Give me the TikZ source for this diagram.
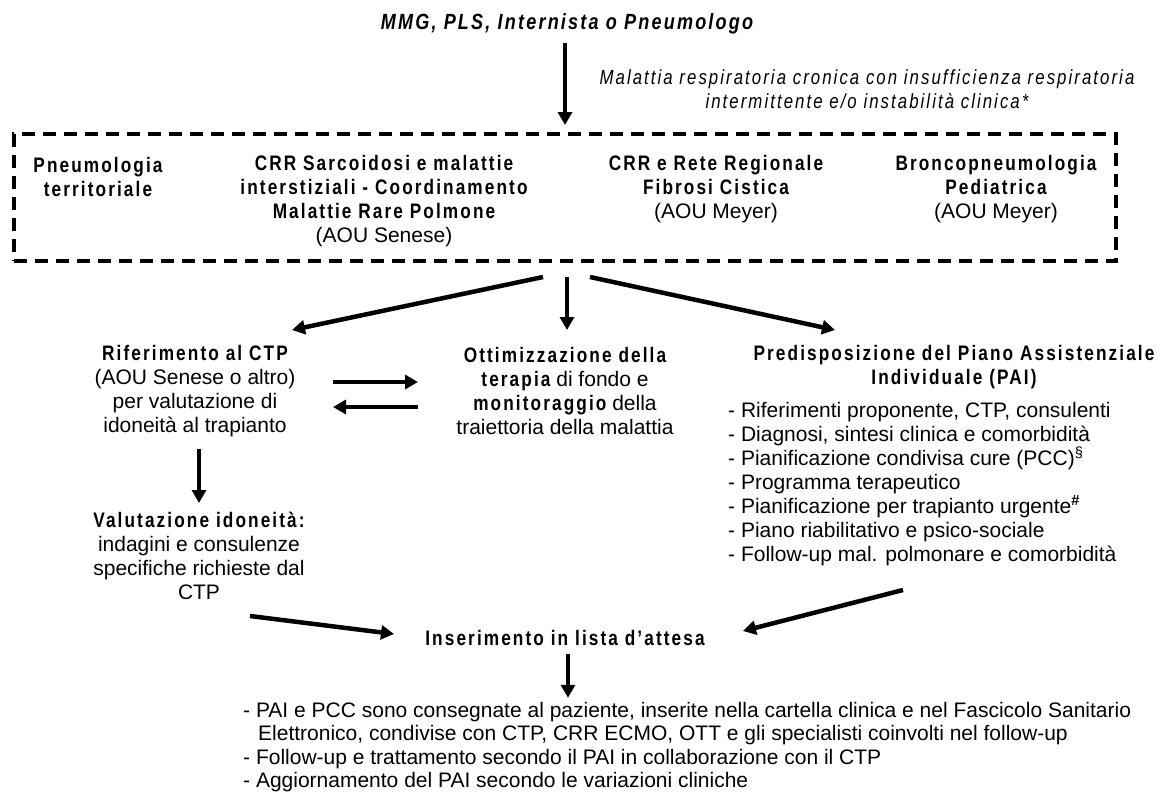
\documentclass[tikz,border=0pt]{standalone}
\usepackage{fontspec}
\setmainfont{Liberation Sans}
\newfontfamily\cnd[FakeStretch=0.82,LetterSpace=10]{Liberation Sans}
\usetikzlibrary{arrows.meta}
\newcommand\bs[1]{{\cnd\bfseries #1}}
\tikzset{
  arr/.style={line width=4.5pt,-{Triangle[length=13pt,width=14pt]}},
  txt/.style={align=center,font=\fontsize{21}{24}\selectfont,inner sep=0pt},
  dbox/.style={draw,line width=4pt,dash pattern=on 13pt off 8pt,minimum width=1102pt,minimum height=127pt,inner sep=0pt}
}
\begin{document}
\begin{tikzpicture}[x=1pt,y=-1pt]
\useasboundingbox (0,0) rectangle (1167,796);
% top
\node[txt,font=\fontsize{22}{26}\selectfont] (src) at (567,24) {\cnd\bfseries\itshape MMG, PLS, Internista o Pneumologo};
\node[txt,font=\fontsize{20.5}{24.5}\selectfont] (lab) at (867,89) {\cnd\itshape Malattia respiratoria cronica con insufficienza respiratoria\\\cnd\itshape intermittente e/o instabilità clinica*};
\node[dbox] (box) at (565,197.5) {};
\node[txt] (pt) at (98,177) {\bs{Pneumologia}\\\bs{territoriale}};
\node[txt] (crr) at (384,201) {\bs{CRR Sarcoidosi e malattie}\\\bs{interstiziali - Coordinamento}\\\bs{Malattie Rare Polmone}\\(AOU Senese)};
\node[txt] (cf) at (716,189) {\bs{CRR e Rete Regionale}\\\bs{Fibrosi Cistica}\\(AOU Meyer)};
\node[txt] (bp) at (996,189) {\bs{Broncopneumologia}\\\bs{Pediatrica}\\(AOU Meyer)};
\draw[arr,shorten <=9pt,shorten >=7pt] (src.south -| box.north) -- (box.north);
% middle row
\node[txt] (ctp) at (195,391) {\bs{Riferimento al CTP}\\(AOU Senese o altro)\\per valutazione di\\idoneità al trapianto};
\node[txt] (ott) at (565,391) {\bs{Ottimizzazione della}\\\bs{terapia} di fondo e\\\bs{monitoraggio} della\\traiettoria della malattia};
\node[txt] (paih) at (954,367) {\bs{Predisposizione del Piano Assistenziale}\\\bs{Individuale (PAI)}};
\node[txt,align=left,anchor=west] (pail) at (728,484) {- Riferimenti proponente, CTP, consulenti\\- Diagnosi, sintesi clinica e comorbidità\\- Pianificazione condivisa cure (PCC)\textsuperscript{§}\\- Programma terapeutico\\- Pianificazione per trapianto urgente\textsuperscript{\textbf{\#}}\\- Piano riabilitativo e psico-sociale\\- Follow-up mal. polmonare e comorbidità};
\coordinate (b1) at (543,277);
\coordinate (t1) at (292,330);
\coordinate (b2) at (567,277);
\coordinate (t2) at (567,330);
\coordinate (b3) at (590,277);
\coordinate (t3) at (835,330);
\draw[arr] (b1) -- (t1);
\draw[arr] (b2) -- (t2);
\draw[arr] (b3) -- (t3);
\coordinate (r1) at (333,382);
\coordinate (r2) at (418,382);
\coordinate (l1) at (418,407);
\coordinate (l2) at (333,407);
\draw[arr] (r1) -- (r2);
\draw[arr] (l1) -- (l2);
% lower
\node[txt] (val) at (199,556) {\bs{Valutazione idoneità:}\\indagini e consulenze\\specifiche richieste dal\\CTP};
\draw[arr,shorten <=12pt,shorten >=9pt] (ctp.south -| val.north) -- (val.north);
\node[txt] (ins) at (565,638) {\bs{Inserimento in lista d’attesa}};
\coordinate (v1) at (250,616);
\coordinate (v2) at (394,634);
\coordinate (p1) at (903,590);
\coordinate (p2) at (743,631);
\draw[arr] (v1) -- (v2);
\draw[arr] (p1) -- (p2);
\node[txt,align=left,anchor=west,font=\fontsize{21}{23.5}\selectfont] (fin) at (243,747) {- PAI e PCC sono consegnate al paziente, inserite nella cartella clinica e nel Fascicolo Sanitario\\\hspace*{15pt}Elettronico, condivise con CTP, CRR ECMO, OTT e gli specialisti coinvolti nel follow-up\\- Follow-up e trattamento secondo il PAI in collaborazione con il CTP\\- Aggiornamento del PAI secondo le variazioni cliniche};
\draw[arr,shorten <=8pt,shorten >=4pt] (ins.south -| 568,0) -- (fin.north -| 568,0);
\end{tikzpicture}
\end{document}
